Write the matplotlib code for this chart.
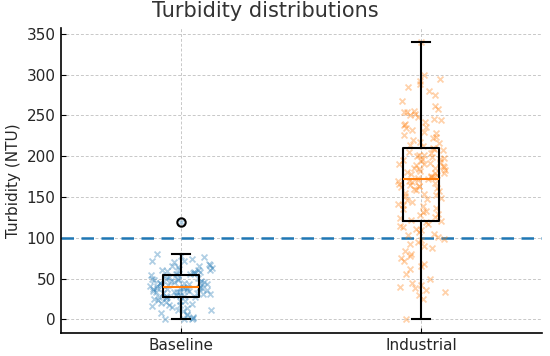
import matplotlib
matplotlib.use('Agg')
import matplotlib.pyplot as plt
import numpy as np

labels = ['Baseline', 'Industrial']

baseline = [0, 0, 1, 2, 3, 5, 6, 8, 10, 11, 12, 14, 15, 16, 17, 18, 19, 20, 21, 22, 23, 24, 25, 26, 27,
            28, 28, 29, 29, 30, 30, 31, 31, 32, 32, 33, 33, 34, 34, 35, 35, 36, 36, 37, 37, 38, 38, 38, 39, 39,
            39,
            40, 40, 41, 41, 42, 42, 43, 43, 44, 44, 45, 45, 46, 46, 47, 47, 48, 48, 49, 50, 50, 51, 52, 53, 54,
            55, 55, 56, 57, 57, 58, 58, 59, 60, 60, 61, 62, 63, 64, 65, 66, 67, 68, 70, 71, 72, 74, 76, 78, 80,
            119]

industrial = [0, 25, 30, 33, 36, 38, 40, 42, 45, 50, 55, 62, 65, 68, 72, 75, 78, 80, 84, 88,
              90, 92, 95, 97, 99, 101, 103, 105, 107, 109, 111, 113, 115, 117, 119,
              120, 122, 124, 126, 128, 129, 131, 133, 135, 137, 139, 140, 142, 144, 146, 148, 149, 151,
              152, 154, 155, 157, 158, 160, 161, 162, 163, 164, 165, 166, 167, 168, 169, 170, 171,
              172,
              173, 174, 175, 176, 177, 178, 179, 180, 181, 182, 183, 184, 185, 186, 187, 188, 189, 190,
              191, 192, 193, 194, 195, 196, 197, 198, 199, 200, 201, 202, 204, 205, 207, 209,
              210,
              212, 214, 216, 218, 220, 222, 224, 226, 228, 230, 232, 234, 236, 238, 240, 242, 244, 246,
              248, 250, 252, 254, 254, 255, 258, 262, 268, 275, 280, 285, 288, 292, 295, 300, 340]

threshold = 100

plt.rcParams['xtick.direction'] = 'in'
plt.rcParams['ytick.direction'] = 'in'
plt.rcParams['text.color'] = '#262626'
plt.rcParams['axes.labelcolor'] = '#262626'
plt.rcParams['xtick.labelcolor'] = '#262626'
plt.rcParams['ytick.labelcolor'] = '#262626'

fig, ax = plt.subplots(figsize=(5.5, 3.56), dpi=100)

colors = ['#1f77b4', '#ff7f0e']
spread = [0.26, 0.2]
for k, vals in enumerate([baseline, industrial]):
    n = len(vals)
    # sideways spread so the points don't pile up in one column (index hash, no RNG)
    idx = np.arange(n) + 7 * k
    h = np.sin(idx * 12.9898 + 1.0) * 43758.5453
    offs = (h - np.floor(h) - 0.5) * spread[k]
    ax.scatter(k + 1 + offs, vals, marker='x', s=18, alpha=0.35, color=colors[k], linewidths=1.3, zorder=2)

ax.boxplot([baseline, industrial], widths=0.15, zorder=3,
           boxprops=dict(color='black', linewidth=1.5),
           whiskerprops=dict(color='black', linewidth=1.5),
           capprops=dict(color='black', linewidth=1.5),
           medianprops=dict(color='#ff7f0e', linewidth=1.5),
           flierprops=dict(marker='o', markerfacecolor='none', markeredgecolor='black',
                           markersize=6, markeredgewidth=1.5))

ax.axhline(threshold, color='#1f77b4', linestyle='--', linewidth=1.8, dashes=(5, 3), zorder=1)

ax.set_xticks([1, 2])
ax.set_xticklabels(labels, fontsize=11)
ax.set_ylabel('Turbidity (NTU)', fontsize=11, labelpad=4)
ax.set_title('Turbidity distributions', fontsize=15, color='#333333', x=0.425, pad=8)
ax.tick_params(axis='y', labelsize=11)
ax.set_yticks(range(0, 351, 50))
ax.grid(True, linestyle='--', dashes=(3, 2), color='#c8c8c8', linewidth=0.7)
ax.set_axisbelow(True)
ax.spines['top'].set_visible(False)
ax.spines['right'].set_visible(False)
for s in ['left', 'bottom']:
    ax.spines[s].set_linewidth(1.2)

plt.subplots_adjust(left=0.11, right=0.985, bottom=0.064, top=0.921)
plt.savefig('out.png')
